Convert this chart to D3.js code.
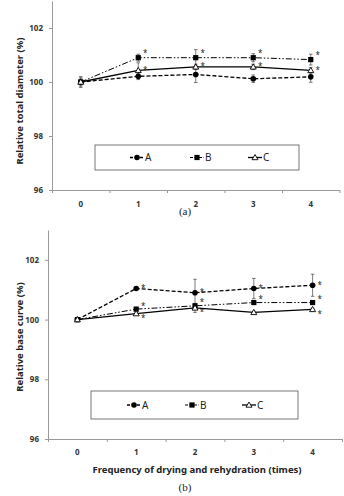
<!DOCTYPE html>
<html>
<head>
<meta charset="utf-8">
<script src="https://cdn.jsdelivr.net/npm/d3@7"></script>
<style>
  body { margin: 0; background: #fff; }
  svg { display: block; }
</style>
</head>
<body>
<svg id="chart" width="344" height="496"></svg>
<script>
const categories = [0, 1, 2, 3, 4];
const yTicks = [96, 98, 100, 102];

// (a) relative total diameter
const diamA = [100, 100.21, 100.28, 100.12, 100.19];
const diamB = [100, 100.9, 100.9, 100.9, 100.83];
const diamC = [100, 100.43, 100.56, 100.56, 100.43];
const diamErrA = [0.2, 0.12, 0.3, 0.14, 0.2];
const diamErrB = [0.1, 0.13, 0.3, 0.15, 0.2];
const diamErrC = [0.15, 0.28, 0.1, 0.1, 0.1];
const diamStarA = [0, 0, 0, 0, 0];
const diamStarB = [0, 1, 1, 1, 1];
const diamStarC = [0, 1, 1, 1, 1];

// (b) relative base curve
const curveA = [100, 101.04, 100.9, 101.04, 101.15];
const curveB = [100, 100.35, 100.46, 100.57, 100.57];
const curveC = [100, 100.2, 100.39, 100.24, 100.34];
const curveErrA = [0.03, 0.05, 0.45, 0.34, 0.37];
const curveErrB = [0.03, 0.06, 0.08, 0.05, 0.05];
const curveErrC = [0.03, 0.05, 0.15, 0.04, 0.04];
const curveStarA = [0, 1, 1, 1, 1];
const curveStarB = [0, 1, 1, 1, 1];
const curveStarC = [0, 1, 1, 0, 1];

const seriesNames = ['A', 'B', 'C'];

const styles = {
    A: { dash: '4,2', width: 1.3, marker: 'circle', fill: '#000' },
    B: { dash: '6,2,1.5,2,1.5,2', width: 1, marker: 'square', fill: '#000' },
    C: { dash: null, width: 1.3, marker: 'triangle', fill: '#fff' }
};

const axisColor = '#999';
const font = "'Noto Sans', 'DejaVu Sans', sans-serif";

let svg = d3.select('#chart');

const panels = [
    {
        left: 52, right: 339.5, top: 1, bottom: 190,
        yTitle: 'Relative total diameter (%)', yTitleY: 101,
        caption: '(a)', captionY: 215, labelY: 207,
        legend: { x: 95, y: 145, w: 204, h: 25, items: [130, 190, 248] },
        values: [diamA, diamB, diamC],
        errs: [diamErrA, diamErrB, diamErrC],
        stars: [diamStarA, diamStarB, diamStarC],
        starDy: [-2, -6, -2],
        xTitle: null
    },
    {
        left: 48, right: 342, top: 230, bottom: 439,
        yTitle: 'Relative base curve (%)', yTitleY: 337,
        caption: '(b)', captionY: 491, labelY: 455,
        legend: { x: 91, y: 391, w: 207, h: 28, items: [127, 185, 242] },
        values: [curveA, curveB, curveC],
        errs: [curveErrA, curveErrB, curveErrC],
        stars: [curveStarA, curveStarB, curveStarC],
        starDy: [-2, -5, 3],
        xTitle: 'Frequency of drying and rehydration (times)'
    }
];

const drawMarker = (g, type, x, y, fill) => {
    if (type == 'circle') {
        g.append('circle').attr('cx', x).attr('cy', y).attr('r', 2.8)
            .style('fill', fill);
    } else if (type == 'square') {
        g.append('rect').attr('x', x - 2.6).attr('y', y - 2.6)
            .attr('width', 5.2).attr('height', 5.2).style('fill', fill);
    } else {
        g.append('path')
            .attr('d', `M${x},${y - 3}L${x + 3},${y + 2.2}L${x - 3},${y + 2.2}Z`)
            .style('fill', fill).style('stroke', '#000').style('stroke-width', 0.9);
    }
};

panels.forEach(p => {
    let g = svg.append('g');

    // scales
    let xScale = d3.scaleLinear()
        .domain([-0.5, 4.5])
        .range([p.left, p.right]);
    let yScale = d3.scaleLinear()
        .domain([96, 103])
        .range([p.bottom, p.top]);

    // y axis
    let yAxis = g.append('g')
        .attr('transform', `translate(${p.left},0)`)
        .call(d3.axisLeft(yScale).tickValues(yTicks).tickSize(3).tickSizeOuter(0)
            .tickPadding(6).tickFormat(d3.format('d')));
    yAxis.selectAll('path, line').style('stroke', axisColor);
    yAxis.selectAll('text')
        .style('font-family', font).style('font-size', '8px')
        .style('font-weight', 'bold').style('fill', '#333');

    // x axis: boundary ticks
    let xAxis = g.append('g')
        .attr('transform', `translate(0,${p.bottom})`)
        .call(d3.axisBottom(xScale).tickValues(d3.range(-0.5, 5, 1)).tickSize(3)
            .tickSizeOuter(0).tickFormat(''));
    xAxis.selectAll('path, line').style('stroke', axisColor);

    // x labels at category centres
    g.selectAll('.xlab')
        .data(categories)
        .enter()
        .append('text')
        .attr('x', d => xScale(d))
        .attr('y', p.labelY)
        .attr('text-anchor', 'middle')
        .style('font-family', font).style('font-size', '8px')
        .style('font-weight', 'bold').style('fill', '#333')
        .text(d => d);

    // y title
    g.append('text')
        .attr('transform', `translate(23,${p.yTitleY}) rotate(-90)`)
        .attr('text-anchor', 'middle')
        .style('font-family', font).style('font-size', '9.5px')
        .style('font-weight', 'bold').style('fill', '#222')
        .text(p.yTitle);

    if (p.xTitle) {
        g.append('text')
            .attr('x', 197).attr('y', 473)
            .attr('text-anchor', 'middle')
            .style('font-family', font).style('font-size', '9.5px')
            .style('font-weight', 'bold').style('fill', '#222')
            .text(p.xTitle);
    }

    // caption
    g.append('text')
        .attr('x', 185).attr('y', p.captionY)
        .attr('text-anchor', 'middle')
        .style('font-family', "'Liberation Serif', 'DejaVu Serif', serif")
        .style('font-size', '11px').style('fill', '#222')
        .text(p.caption);

    // legend
    g.append('rect')
        .attr('x', p.legend.x).attr('y', p.legend.y)
        .attr('width', p.legend.w).attr('height', p.legend.h)
        .style('fill', '#fff').style('stroke', '#555').style('stroke-width', 0.8);
    let ly = p.legend.y + p.legend.h / 2;
    seriesNames.forEach((name, i) => {
        let st = styles[name];
        let lx = p.legend.items[i];
        g.append('line')
            .attr('x1', lx).attr('x2', lx + 14).attr('y1', ly).attr('y2', ly)
            .style('stroke', '#000').style('stroke-width', st.width)
            .style('stroke-dasharray', st.dash == '4,2' ? '3,2' : (st.dash ? '3,1.5' : null));
        drawMarker(g, st.marker, lx + 7, ly, st.fill);
        g.append('text')
            .attr('x', lx + 15).attr('y', ly + 3.5)
            .style('font-family', font).style('font-size', '10px').style('fill', '#222')
            .text(name);
    });

    // series
    const line = d3.line()
        .x((d, i) => xScale(categories[i]))
        .y(d => yScale(d));

    seriesNames.forEach((name, si) => {
        let st = styles[name];
        let vals = p.values[si];
        let errs = p.errs[si];

        // error bars
        vals.forEach((v, i) => {
            let x = xScale(categories[i]);
            g.append('line')
                .attr('x1', x).attr('x2', x)
                .attr('y1', yScale(v + errs[i])).attr('y2', yScale(v - errs[i]))
                .style('stroke', '#444').style('stroke-width', 0.7);
            [v + errs[i], v - errs[i]].forEach(e => {
                g.append('line')
                    .attr('x1', x - 1.8).attr('x2', x + 1.8)
                    .attr('y1', yScale(e)).attr('y2', yScale(e))
                    .style('stroke', '#444').style('stroke-width', 0.7);
            });
        });

        g.append('path')
            .datum(vals)
            .attr('d', line)
            .style('fill', 'none')
            .style('stroke', '#000')
            .style('stroke-width', st.width)
            .style('stroke-dasharray', st.dash);
    });

    // markers and stars on top
    seriesNames.forEach((name, si) => {
        let st = styles[name];
        p.values[si].forEach((v, i) => {
            let x = xScale(categories[i]);
            let y = yScale(v);
            drawMarker(g, st.marker, x, y, st.fill);
            if (p.stars[si][i]) {
                g.append('text')
                    .attr('x', x + 7).attr('y', y + p.starDy[si] + 4.5)
                    .attr('text-anchor', 'middle')
                    .style('font-family', font).style('font-size', '8px').style('fill', '#222')
                    .text('*');
            }
        });
    });
});
</script>
</body>
</html>
